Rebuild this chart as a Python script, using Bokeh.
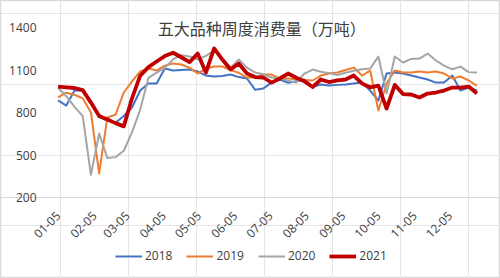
import pandas as pd
from math import pi
from bokeh.plotting import figure
from bokeh.models import (Range1d, FixedTicker, DatetimeTickFormatter, DatetimeAxis, LinearAxis, Grid,
                          Legend, LegendItem, Label, ColumnDataSource)
from bokeh.embed import file_html
from bokeh.resources import INLINE

# weekly observation dates (MM-DD, plotted on a common year)
week_start = "2021-01-05"
n_weeks = 52
month_ticks = ["01-05", "02-05", "03-05", "04-05", "05-05", "06-05",
               "07-05", "08-05", "09-05", "10-05", "11-05", "12-05"]

series_names = ["2018", "2019", "2020", "2021"]
y2018 = [885, 849, 955, 955, 880, 770, 745, 728, 775, 835, 955, 1005, 1005, 1110, 1096, 1100,
         1103, 1090, 1061, 1054, 1058, 1068, 1050, 1040, 960, 970, 1011, 1033, 1010, 1020, 1033, 983,
         997, 990, 995, 997, 1005, 1011, 955, 884, 1075, 1082, 1075, 1061, 1047, 1033, 1011, 1011,
         1061, 955, 976, 955]
y2019 = [906, 940, 925, 900, 800, 370, 765, 785, 941, 1020, 1090, 1110, 1096, 1131, 1146, 1139,
         1117, 1075, 1110, 1125, 1125, 1100, 1080, 1047, 1047, 1068, 1068, 1040, 1040, 1035, 1030, 1026,
         1061, 1075, 1082, 1100, 1117, 1061, 1096, 814, 1005, 1096, 1082, 1082, 1089, 1082, 1089, 1075,
         1040, 1054, 1026, 990]
y2020 = [975, 915, 840, 775, 360, 652, 478, 485, 530, 660, 820, 1045, 1082, 1115, 1175, 1205,
         1195, 1175, 1200, 1237, 1180, 1117, 1174, 1117, 1082, 1070, 1047, 1040, 1025, 1011, 1075, 1103,
         1088, 1078, 1065, 1080, 1095, 1105, 1110, 1195, 934, 1195, 1153, 1178, 1181, 1216, 1167, 1131,
         1105, 1124, 1085, 1082]
y2021 = [983, 978, 973, 958, 870, 775, 750, 725, 702, 900, 1060, 1120, 1160, 1198, 1222, 1190,
         1155, 1216, 1082, 1252, 1174, 1103, 1146, 1075, 1050, 1047, 1011, 1040, 1075, 1045, 1020, 980,
         1033, 1015, 1026, 1033, 1061, 1005, 978, 990, 828, 995, 930, 927, 906, 934, 941, 955,
         976, 976, 983, 934]
colors = ["#4472C4", "#ED7D31", "#A5A5A5", "#C00000"]
widths = [2, 2, 2, 3.8]
y_ticks = [200, 500, 800, 1100, 1400]
title_text = "五大品种周度消费量（万吨）"

dates = pd.date_range(week_start, periods=n_weeks, freq="7D")
src = ColumnDataSource(dict(x=dates, y2018=y2018, y2019=y2019, y2020=y2020, y2021=y2021))

day_ms = 86400000.0
x0 = dates[0].value / 1e6
x1 = dates[-1].value / 1e6
plot_x_start = x0 - 0.5 * day_ms        # left edge of plotting area (57 px)
plot_x_end = x1 + 0.5 * day_ms          # right edge (477 px)
ms_per_px = (plot_x_end - plot_x_start) / 420.0

# frame spans the whole canvas; the plotting area is mapped inside it
W, H = 500, 278
upp = 1200 / 170.0
y_lo = 200 - (H - 197) * upp
y_hi = 1400 + 27 * upp

p = figure(frame_width=W, frame_height=H, x_axis_location=None, y_axis_location=None,
           output_backend="svg", toolbar_location=None,
           x_range=Range1d(plot_x_start - 57 * ms_per_px, plot_x_end + (W - 477) * ms_per_px),
           y_range=Range1d(y_lo, y_hi),
           min_border_left=0, min_border_right=0, min_border_top=0, min_border_bottom=0,
           background_fill_color="white", border_fill_color="white",
           outline_line_color="#D9D9D9", outline_line_width=1.5)

font = "Open Sans"

base_grid = Grid(dimension=1, ticker=FixedTicker(ticks=[200]), bounds=(plot_x_start, plot_x_end),
                 grid_line_color="#D9D9D9", grid_line_width=1.2)
p.add_layout(base_grid)

tick_ts = [pd.Timestamp("2021-" + t).value / 1e6 for t in month_ticks]
fmt = "%m-%d"
xaxis = DatetimeAxis(ticker=FixedTicker(ticks=tick_ts),
                     formatter=DatetimeTickFormatter(days=fmt, months=fmt, years=fmt, hours=fmt, hourmin=fmt),
                     fixed_location=200, bounds=(plot_x_start, plot_x_end),
                     major_label_orientation=pi / 4,
                     axis_line_color="#D9D9D9", axis_line_width=1.2,
                     major_tick_line_color=None, minor_tick_line_color=None,
                     major_label_text_font=font, major_label_text_font_size="12px",
                     major_label_text_color="#404040", major_label_standoff=10)
p.add_layout(xaxis, "below")

yaxis = LinearAxis(ticker=FixedTicker(ticks=y_ticks), fixed_location=plot_x_start,
                   axis_line_color=None, major_tick_line_color=None, minor_tick_line_color=None,
                   major_label_text_font=font, major_label_text_font_size="12px",
                   major_label_text_color="#404040", major_label_standoff=15)
p.add_layout(yaxis, "left")

renderers = []
for name, col, w in zip(series_names, colors, widths):
    r = p.line("x", "y" + name, source=src, line_color=col, line_width=w, line_join="round")
    renderers.append(r)

legend = Legend(items=[LegendItem(label=n, renderers=[r]) for n, r in zip(series_names, renderers)],
                orientation="horizontal", location=(115, 14),
                glyph_width=27, glyph_height=14, label_standoff=3, spacing=14,
                label_text_font=font, label_text_font_size="12px", label_text_color="#404040",
                border_line_color=None, background_fill_alpha=0, padding=0, margin=0)
p.add_layout(legend)

title_x = x0 + 173.5 * day_ms
title = Label(x=title_x, y=1400, text=title_text, text_align="center",
              text_baseline="middle", text_font="Noto Sans CJK SC", text_font_size="16px",
              text_color="#404040")
p.add_layout(title)

open("out.html", "w").write(file_html(p, INLINE))
